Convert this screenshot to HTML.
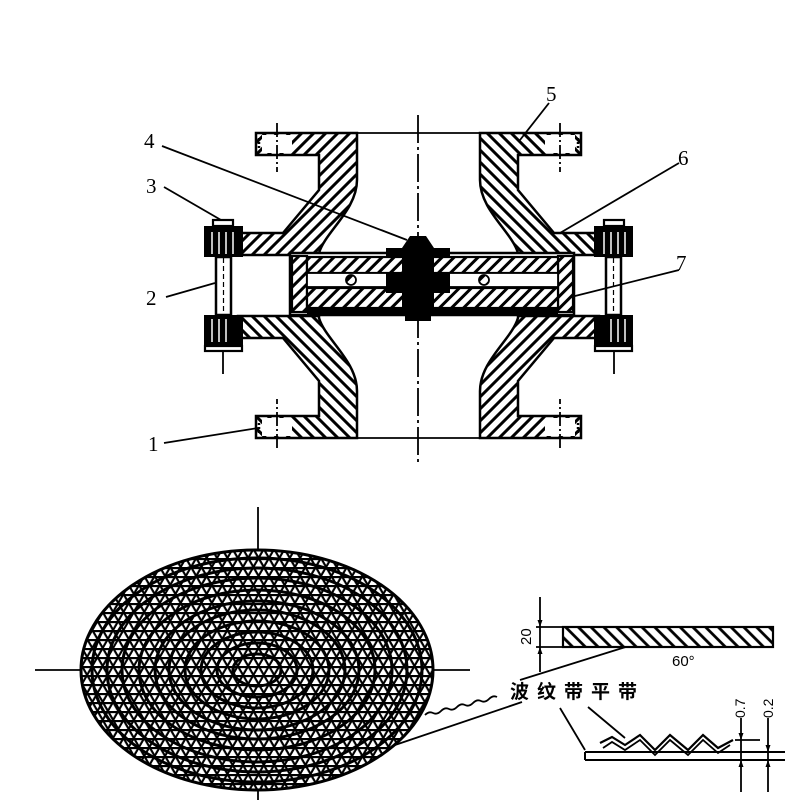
<!DOCTYPE html>
<html><head><meta charset="utf-8"><style>
html,body{margin:0;padding:0;background:#fff;width:800px;height:800px;overflow:hidden}
svg{display:block}
text{font-family:"Liberation Serif",serif;fill:#000}
</style></head><body>
<svg width="800" height="800" viewBox="0 0 800 800" xmlns="http://www.w3.org/2000/svg">
<defs>
<pattern id="h" width="8.5" height="8.5" patternUnits="userSpaceOnUse" patternTransform="rotate(45)"><rect width="8.5" height="8.5" fill="#fff"/><line x1="1.5" y1="0" x2="1.5" y2="8.5" stroke="#000" stroke-width="3"/></pattern>
<pattern id="h2" width="9" height="9" patternUnits="userSpaceOnUse" patternTransform="rotate(-45)"><rect width="9" height="9" fill="#fff"/><line x1="1.5" y1="0" x2="1.5" y2="9" stroke="#000" stroke-width="2.8"/></pattern>
<pattern id="m" width="9" height="9" patternUnits="userSpaceOnUse"><line x1="0" y1="1" x2="9" y2="1" stroke="#000" stroke-width="2.3"/></pattern>
<pattern id="m2" width="9" height="9" patternUnits="userSpaceOnUse" patternTransform="rotate(60)"><line x1="0" y1="1" x2="9" y2="1" stroke="#000" stroke-width="2.3"/></pattern>
<pattern id="m3" width="9" height="9" patternUnits="userSpaceOnUse" patternTransform="rotate(120)"><line x1="0" y1="1" x2="9" y2="1" stroke="#000" stroke-width="2.3"/></pattern>
<clipPath id="ec"><ellipse cx="257" cy="670" rx="176" ry="120"/></clipPath>
<g id="body">
<path d="M256 133 H357 V180 C357 210 325 232 319 253 L319 255 H238 V233 H283 L319 190 V155 H256 Z" fill="url(#h)" stroke="#000" stroke-width="2.5"/>
<rect x="262" y="135" width="30" height="18" fill="#fff"/>
<line x1="277" y1="123" x2="277" y2="172" stroke="#000" stroke-width="1.8" stroke-dasharray="14 3 2 3"/>
<line x1="259" y1="138" x2="259" y2="150" stroke="#000" stroke-width="2.5" stroke-dasharray="2 2"/>
</g>
<g id="bolt">
<rect x="213" y="220" width="20" height="6" fill="#fff" stroke="#000" stroke-width="2.2"/>
<rect x="204" y="226" width="39" height="31" fill="#000"/>
<line x1="212" y1="232" x2="212" y2="254" stroke="#fff" stroke-width="1.5"/>
<line x1="219" y1="232" x2="219" y2="254" stroke="#fff" stroke-width="1.5"/>
<line x1="226" y1="232" x2="226" y2="254" stroke="#fff" stroke-width="1.5"/>
<line x1="233" y1="232" x2="233" y2="254" stroke="#fff" stroke-width="1.5"/>
<rect x="216" y="257" width="15" height="58" fill="#fff" stroke="#000" stroke-width="2.5"/>
<line x1="223.5" y1="258" x2="223.5" y2="314" stroke="#000" stroke-width="1.2" stroke-dasharray="5 3"/>
<rect x="204" y="315" width="39" height="31" fill="#000"/>
<line x1="212" y1="319" x2="212" y2="342" stroke="#fff" stroke-width="1.5"/>
<line x1="219" y1="319" x2="219" y2="342" stroke="#fff" stroke-width="1.5"/>
<line x1="226" y1="319" x2="226" y2="342" stroke="#fff" stroke-width="1.5"/>
<rect x="205" y="346" width="37" height="5" fill="#fff" stroke="#000" stroke-width="2.2"/>
<line x1="223" y1="351" x2="223" y2="374" stroke="#000" stroke-width="1.8"/>
</g>
</defs>

<line x1="418" y1="115" x2="418" y2="462" stroke="#000" stroke-width="1.8" stroke-dasharray="28 4 3 4"/>
<line x1="357" y1="133" x2="480" y2="133" stroke="#000" stroke-width="1.8"/>
<line x1="357" y1="438" x2="480" y2="438" stroke="#000" stroke-width="1.8"/>

<use href="#body"/>
<use href="#body" transform="translate(837,0) scale(-1,1)"/>
<use href="#body" transform="translate(0,571) scale(1,-1)"/>
<use href="#body" transform="translate(837,571) scale(-1,-1)"/>
<use href="#bolt"/>
<use href="#bolt" transform="translate(837,0) scale(-1,1)"/>

<rect x="290" y="253" width="284" height="62" fill="#fff" stroke="#000" stroke-width="2.5"/>
<rect x="292" y="256" width="15" height="56" fill="url(#h)" stroke="#000" stroke-width="2.2"/>
<rect x="558" y="256" width="15" height="56" fill="url(#h)" stroke="#000" stroke-width="2.2"/>
<rect x="307" y="257" width="251" height="16" fill="url(#h)" stroke="#000" stroke-width="2.2"/>
<rect x="307" y="273" width="251" height="14" fill="#fff" stroke="#000" stroke-width="1.8"/>
<rect x="307" y="288" width="251" height="20" fill="url(#h)" stroke="#000" stroke-width="2.2"/>
<rect x="307" y="309" width="251" height="6" fill="#000"/>
<circle cx="351" cy="280" r="5" fill="url(#h)" stroke="#000" stroke-width="1.8"/>
<circle cx="484" cy="280" r="5" fill="url(#h)" stroke="#000" stroke-width="1.8"/>
<path d="M402 248 L410 236 H426 L434 248 H450 V258 H434 V273 H450 V293 H434 V312 H402 V293 H386 V273 H402 V258 H386 V248 Z" fill="#000"/>
<rect x="405" y="312" width="26" height="9" fill="#000"/>

<g stroke="#000" stroke-width="1.8" fill="none">
<line x1="162" y1="146" x2="407" y2="240"/>
<line x1="549" y1="103" x2="520" y2="140"/>
<line x1="679" y1="163" x2="560" y2="233"/>
<line x1="164" y1="187" x2="221" y2="220"/>
<line x1="166" y1="297" x2="215" y2="283"/>
<line x1="679" y1="270" x2="571" y2="297"/>
<line x1="164" y1="443" x2="258" y2="428"/>
</g>
<g font-size="21">
<text x="546" y="101">5</text>
<text x="678" y="165">6</text>
<text x="144" y="148">4</text>
<text x="146" y="193">3</text>
<text x="146" y="305">2</text>
<text x="676" y="270">7</text>
<text x="148" y="451">1</text>
</g>

<line x1="258" y1="507" x2="258" y2="800" stroke="#000" stroke-width="1.8"/>
<line x1="35" y1="670" x2="470" y2="670" stroke="#000" stroke-width="1.8"/>
<ellipse cx="257" cy="670" rx="176" ry="120" fill="#fff"/>
<g clip-path="url(#ec)">
<rect x="70" y="540" width="380" height="260" fill="url(#m)"/>
<rect x="70" y="540" width="380" height="260" fill="url(#m2)"/>
<rect x="70" y="540" width="380" height="260" fill="url(#m3)"/>
<g fill="none" stroke="#000" stroke-width="3">
<ellipse cx="257" cy="670" rx="165" ry="112"/>
<ellipse cx="257" cy="670" rx="150" ry="102"/>
<ellipse cx="257" cy="670" rx="135" ry="92"/>
<ellipse cx="257" cy="670" rx="118" ry="80"/>
<ellipse cx="257" cy="670" rx="102" ry="69"/>
<ellipse cx="257" cy="670" rx="88" ry="60"/>
<ellipse cx="257" cy="670" rx="72" ry="49"/>
<ellipse cx="257" cy="670" rx="56" ry="38"/>
<ellipse cx="257" cy="670" rx="40" ry="27"/>
<ellipse cx="257" cy="670" rx="24" ry="16"/>
</g>
</g>
<ellipse cx="257" cy="670" rx="176" ry="120" fill="none" stroke="#000" stroke-width="3"/>

<g stroke="#000" fill="none" stroke-width="1.8">
<line x1="540" y1="597" x2="540" y2="672"/>
<line x1="536" y1="627" x2="563" y2="627"/>
<line x1="536" y1="647" x2="563" y2="647"/>
<path d="M425 715 q4 -4 8 -2 q4 2 8 -2 q4 -4 8 -2 q4 2 8 -2 q4 -4 8 -2 q4 2 8 -2 q4 -4 8 -2 q4 2 8 -2 q4 -4 8 -2"/>
<line x1="395" y1="745" x2="522" y2="702"/>
<line x1="520" y1="680" x2="632" y2="645"/>
<line x1="560" y1="708" x2="585" y2="750"/>
<line x1="588" y1="707" x2="625" y2="738"/>
<path d="M585 752 H785 M585 760 H785 M585 752 V760" stroke-width="2"/>
<path d="M600 743 L612 737 L625 745 L640 735 L655 750 L670 735 L688 750 L703 735 L718 748 L733 740" stroke-width="2.2"/>
<path d="M603 748 L612 742 L625 750 L640 740 L655 755 L670 740 L688 755 L703 740 L718 753 L730 745" stroke-width="1.8"/>
<line x1="741" y1="718" x2="741" y2="792"/>
<line x1="768" y1="718" x2="768" y2="792"/>
<line x1="735" y1="740" x2="760" y2="740"/>
</g>
<path d="M540 627 l-2.5 -7 h5 Z M540 647 l-2.5 7 h5 Z M741 740 l-2.5 -7 h5Z M741 760 l-2.5 7 h5Z M768 752 l-2.5 -7 h5Z M768 760 l-2.5 7 h5Z" fill="#000"/>
<rect x="563" y="627" width="210" height="20" fill="url(#h2)" stroke="#000" stroke-width="2.2"/>
<text x="0" y="0" font-size="15" transform="translate(531,645) rotate(-90)" style="font-family:'Liberation Sans',sans-serif">20</text>
<text x="672" y="666" font-size="15" style="font-family:'Liberation Sans',sans-serif">60°</text>
<text x="510" y="698" font-size="19" font-weight="bold" letter-spacing="8" style="font-family:'Liberation Sans','Noto Sans CJK SC',sans-serif">波纹带平带</text>
<text x="0" y="0" font-size="14" transform="translate(745,718) rotate(-90)" style="font-family:'Liberation Sans',sans-serif">0.7</text>
<text x="0" y="0" font-size="14" transform="translate(773,718) rotate(-90)" style="font-family:'Liberation Sans',sans-serif">0.2</text>
</svg>
</body></html>
